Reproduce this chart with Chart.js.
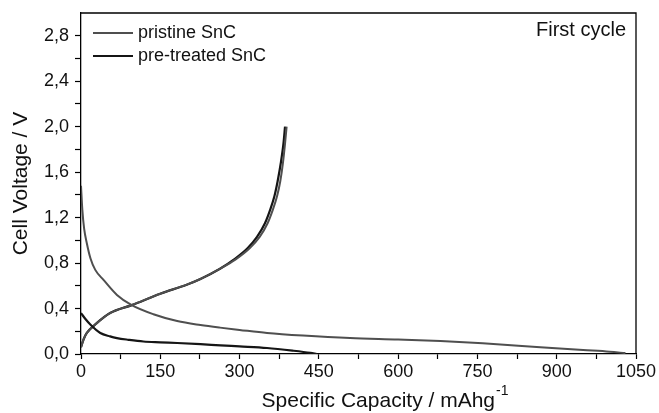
<!DOCTYPE html>
<html>
<head>
<meta charset="utf-8">
<script src="https://cdn.jsdelivr.net/npm/chart.js@4"></script>
<style>
  body { margin: 0; background: #fff; }
  canvas { display: block; }
</style>
</head>
<body>
<canvas id="chart" width="659" height="413"></canvas>
<script>
// series labels
const seriesNames = ['pristine SnC', 'pre-treated SnC'];

// discharge curves (capacity mAh/g, voltage V)
const pristineDisCap = [0, 2.5, 6, 11, 18, 27, 43, 68, 96, 137, 182, 226, 263, 300, 352, 420, 509, 600, 680, 760, 869, 950, 1000, 1030];
const pristineDisV   = [1.48, 1.27, 1.1, 0.975, 0.84, 0.74, 0.65, 0.52, 0.43, 0.35, 0.29, 0.255, 0.232, 0.212, 0.185, 0.162, 0.14, 0.128, 0.115, 0.095, 0.06, 0.035, 0.02, 0.008];

const treatedDisCap = [0, 8, 17.6, 36.5, 55, 68, 90, 118, 150, 182, 226, 264, 300, 352, 400, 434, 446];
const treatedDisV   = [0.36, 0.31, 0.26, 0.185, 0.155, 0.14, 0.125, 0.11, 0.103, 0.097, 0.087, 0.076, 0.067, 0.053, 0.03, 0.01, 0.0];

// charge curves
const pristineChgCap = [0, 5, 11, 27, 55, 96, 150, 200, 226, 263, 292, 319, 338, 353, 363, 371, 377, 382, 386, 389];
const treatedChgCap  = [0, 5, 11, 27, 55, 96, 150, 200, 226, 263, 289, 315, 333, 348, 358, 366, 372, 378, 383, 386];
const chargeV        = [0.06, 0.13, 0.185, 0.26, 0.36, 0.43, 0.53, 0.61, 0.66, 0.75, 0.83, 0.93, 1.03, 1.15, 1.27, 1.39, 1.52, 1.68, 1.85, 2.0];

// ticks
const xTickValues = [0, 150, 300, 450, 600, 750, 900, 1050];
const yTickValues = [0, 0.4, 0.8, 1.2, 1.6, 2.0, 2.4, 2.8];
const yTickLabels = ['0,0', '0,4', '0,8', '1,2', '1,6', '2,0', '2,4', '2,8'];

const annotationText = 'First cycle';
const xTitle = 'Specific Capacity / mAhg';
const xTitleSup = '-1';
const yTitle = 'Cell Voltage / V';

const colors = ['#4f4f4f', '#151515'];
const FONT = "'Liberation Sans', Arial, sans-serif";

function pts(xs, ys) {
  return xs.map((x, i) => ({ x: x, y: ys[i] }));
}

// ticks plus minor ticks halfway between majors
function withMinors(vals) {
  const out = [];
  vals.forEach((v, i) => {
    out.push(v);
    if (i < vals.length - 1) out.push((v + vals[i + 1]) / 2);
  });
  return out;
}

function noPad(scale) {
  scale.paddingTop = 0;
  scale.paddingBottom = 0;
  scale.paddingLeft = 0;
  scale.paddingRight = 0;
}

const framePlugin = {
  id: 'frame',
  afterDraw(chart) {
    const ctx = chart.ctx;
    const a = chart.chartArea;
    ctx.save();
    ctx.strokeStyle = '#000';
    ctx.lineWidth = 1.3;
    ctx.beginPath();
    ctx.moveTo(a.left, a.top);
    ctx.lineTo(a.right, a.top);
    ctx.lineTo(a.right, a.bottom);
    ctx.stroke();

    // legend
    ctx.font = '18px ' + FONT;
    ctx.textBaseline = 'middle';
    ctx.textAlign = 'left';
    seriesNames.forEach((name, i) => {
      const y = a.top + 20 + i * 23;
      ctx.strokeStyle = colors[i];
      ctx.lineWidth = 2;
      ctx.beginPath();
      ctx.moveTo(a.left + 12, y);
      ctx.lineTo(a.left + 52, y);
      ctx.stroke();
      ctx.fillStyle = '#111';
      ctx.fillText(name, a.left + 57, y);
    });

    // annotation
    ctx.textAlign = 'right';
    ctx.font = '20px ' + FONT;
    ctx.fillText(annotationText, a.right - 10, a.top + 17);

    // x title with superscript
    ctx.font = '21px ' + FONT;
    const supFont = '14px ' + FONT;
    const w1 = ctx.measureText(xTitle).width;
    ctx.font = supFont;
    const w2 = ctx.measureText(xTitleSup).width;
    const cx = (a.left + a.right) / 2 + 26;
    const x0 = cx - (w1 + w2) / 2;
    const ty = 401;
    ctx.textAlign = 'left';
    ctx.font = '21px ' + FONT;
    ctx.fillText(xTitle, x0, ty);
    ctx.font = supFont;
    ctx.fillText(xTitleSup, x0 + w1 + 1, ty - 10);
    ctx.restore();
  }
};

function makeSet(label, data, color, width) {
  return {
    label: label,
    data: data,
    borderColor: color,
    borderWidth: width,
    pointRadius: 0,
    fill: false,
    cubicInterpolationMode: 'monotone'
  };
}

new Chart(document.getElementById('chart'), {
  type: 'line',
  data: {
    datasets: [
      makeSet(seriesNames[0], pts(pristineDisCap, pristineDisV), colors[0], 2),
      makeSet(seriesNames[1], pts(treatedDisCap, treatedDisV), colors[1], 2.2),
      makeSet(seriesNames[0], pts(pristineChgCap, chargeV), colors[0], 2),
      makeSet(seriesNames[1], pts(treatedChgCap, chargeV), colors[1], 2.2)
    ]
  },
  options: {
    responsive: false,
    animation: false,
    layout: { padding: { top: 13, right: 23, left: 0, bottom: 0 } },
    plugins: {
      legend: { display: false },
      tooltip: { enabled: false }
    },
    scales: {
      x: {
        type: 'linear',
        min: 0,
        max: 1050,
        afterBuildTicks(scale) {
          scale.ticks = withMinors(xTickValues).map(v => ({ value: v }));
        },
        afterFit(scale) { scale.height = 59; noPad(scale); },
        ticks: {
          autoSkip: false,
          maxRotation: 0,
          padding: 2,
          color: '#111',
          font: { family: FONT, size: 18 },
          callback: v => (xTickValues.includes(v) ? String(v) : '')
        },
        grid: { drawOnChartArea: false, tickLength: 5, color: '#000', tickWidth: 1.2 },
        border: { color: '#000', width: 1.3 }
      },
      y: {
        min: 0,
        max: 3.0,
        afterBuildTicks(scale) {
          scale.ticks = withMinors(yTickValues).map(v => ({ value: v }));
        },
        afterFit(scale) { scale.width = 81; noPad(scale); },
        ticks: {
          autoSkip: false,
          padding: 6,
          color: '#111',
          font: { family: FONT, size: 18 },
          callback: v => {
            const i = yTickValues.findIndex(t => Math.abs(t - v) < 1e-6);
            return i >= 0 ? yTickLabels[i] : '';
          }
        },
        title: {
          display: true,
          text: yTitle,
          color: '#111',
          font: { family: FONT, size: 21 },
          padding: { top: 9, bottom: 0 }
        },
        grid: { drawOnChartArea: false, tickLength: 6, color: '#000', tickWidth: 1.2 },
        border: { color: '#000', width: 1.3 }
      }
    }
  },
  plugins: [framePlugin]
});
</script>
</body>
</html>
